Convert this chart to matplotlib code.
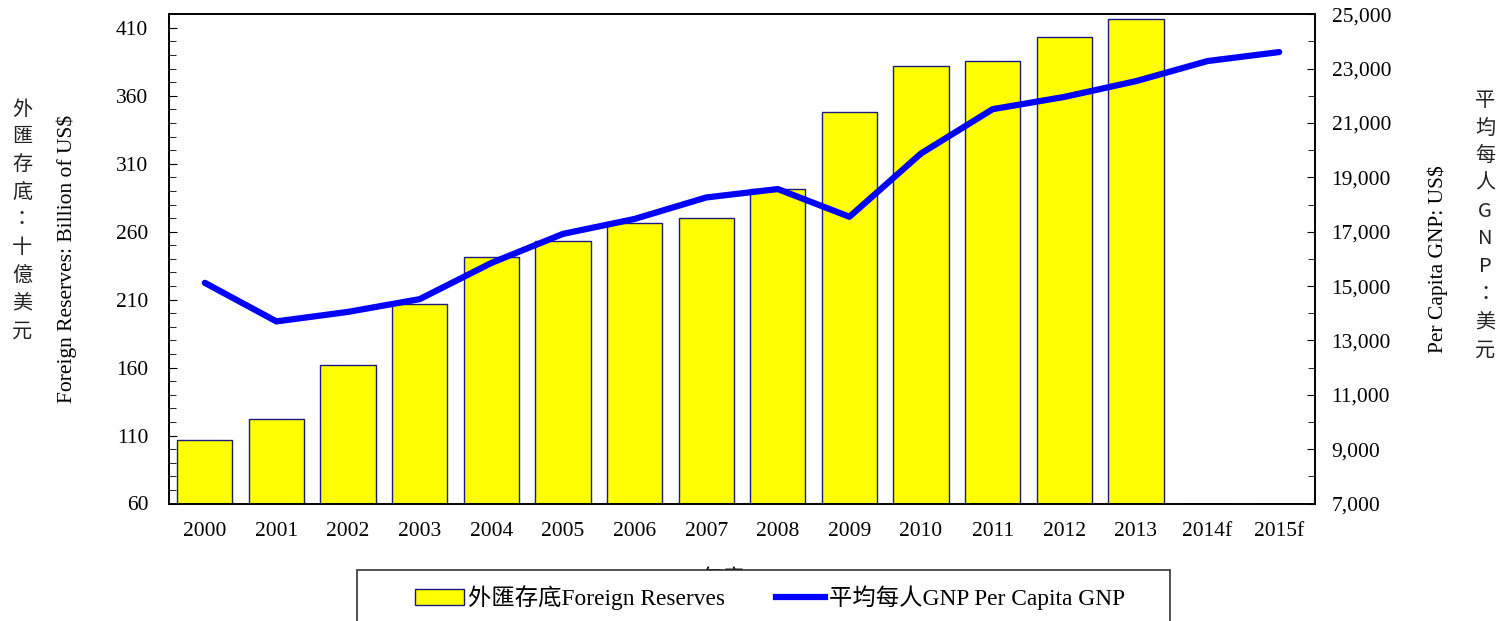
import numpy as np
import matplotlib
matplotlib.use('Agg')
import matplotlib.pyplot as plt
from matplotlib.patches import Patch, Rectangle
from matplotlib.lines import Line2D
from matplotlib.ticker import MultipleLocator, FuncFormatter

# data
years = ['2000', '2001', '2002', '2003', '2004', '2005', '2006', '2007',
         '2008', '2009', '2010', '2011', '2012', '2013', '2014f', '2015f']
reserves = [106.7, 122.2, 161.7, 206.6, 241.7, 253.3, 266.1, 270.3,
            291.7, 348.2, 382.0, 385.5, 403.2, 416.8, None, None]   # billion US$
gnp = [15120, 13700, 14050, 14520, 15850, 16920, 17470, 18260,
       18570, 17550, 19880, 21510, 21960, 22540, 23280, 23610]      # US$

left_ticks = [60, 110, 160, 210, 260, 310, 360, 410]
right_ticks = [7000, 9000, 11000, 13000, 15000, 17000, 19000, 21000, 23000, 25000]

plt.rcParams['font.family'] = ['Liberation Serif', 'Noto Sans CJK TC', 'DejaVu Sans']
cjk = ['Noto Sans CJK TC', 'DejaVu Sans']

W, H = 1512, 621
fig = plt.figure(figsize=(W / 100, H / 100), dpi=100)
ax = fig.add_axes([169 / W, 1 - 503.5 / H, (1315 - 169) / W, (503.5 - 14.3) / H])

x = np.arange(len(years))
base = 60
heights = [v - base if v is not None else 0 for v in reserves]
ax.bar(x, heights, bottom=base, width=0.77, color='#ffff00',
       edgecolor='#1a1a80', linewidth=1.0, zorder=2)

ax.set_xlim(-0.5, len(years) - 0.5)
ax.set_ylim(60, 420)
ax.set_xticks(x)
ax.set_xticklabels(years)
ax.set_yticks(left_ticks)
ax.yaxis.set_minor_locator(MultipleLocator(10))
ax.tick_params(axis='x', length=0, pad=13, labelsize=15.5)
ax.tick_params(axis='y', which='both', direction='in', labelsize=15.5, pad=15)
ax.tick_params(axis='y', which='major', length=6)
ax.tick_params(axis='y', which='minor', length=5)
ax.set_ylabel('Foreign Reserves: Billion of US$', fontsize=15.5, labelpad=28)
ax.set_xlabel('年度Year', fontsize=15, labelpad=21)

ax2 = ax.twinx()
ax2.plot(x, gnp, color='#0000ff', linewidth=4.5, solid_capstyle='round',
         solid_joinstyle='round', zorder=3)
ax2.set_ylim(7000, 25000)
ax2.set_yticks(right_ticks)
ax2.yaxis.set_minor_locator(MultipleLocator(1000))
ax2.yaxis.set_major_formatter(FuncFormatter(lambda v, p: f'{int(v):,}'))
ax2.tick_params(axis='y', which='both', direction='in', labelsize=15.5, pad=12)
ax2.tick_params(axis='y', which='major', length=6)
ax2.tick_params(axis='y', which='minor', length=5)
ax2.set_ylabel('Per Capita GNP: US$', fontsize=15.5, labelpad=26)

for a in (ax, ax2):
    for s in a.spines.values():
        s.set_linewidth(1.2)

# stacked vertical chinese titles
fig.text(22 / W, 1 - 220 / H, '\n'.join('外匯存底：十億美元'), ha='center', va='center',
         fontsize=14.5, linespacing=1.42, family=cjk, color='#222222')
fig.text(1485 / W, 1 - 225 / H, '\n'.join('平均每人') + '\n' + '\n'.join('GNP') + '\n' + '\n'.join('：美元'),
         ha='center', va='center', fontsize=14.5, linespacing=1.42, family=cjk, color='#222222')

# legend box (partly cut off at the bottom like the reference)
box = Rectangle((357 / W, -0.05), (1170 - 357) / W, 0.05 + (621 - 570) / H,
                transform=fig.transFigure, facecolor='white', edgecolor='#333333',
                linewidth=1.2, zorder=5)
fig.patches.append(box)
handles = [Patch(facecolor='#ffff00', edgecolor='#1a1a80', linewidth=1.0),
           Line2D([], [], color='#0000ff', linewidth=4.5)]
labels = ['外匯存底Foreign Reserves', '平均每人GNP Per Capita GNP']
leg = fig.legend(handles, labels, loc='center', bbox_to_anchor=(770 / W, 1 - 598 / H),
                 ncol=2, frameon=False, fontsize=16.8, handlelength=2.1,
                 handletextpad=0.15, columnspacing=2.2)
leg.set_zorder(6)

fig.savefig('out.png', dpi=100)
